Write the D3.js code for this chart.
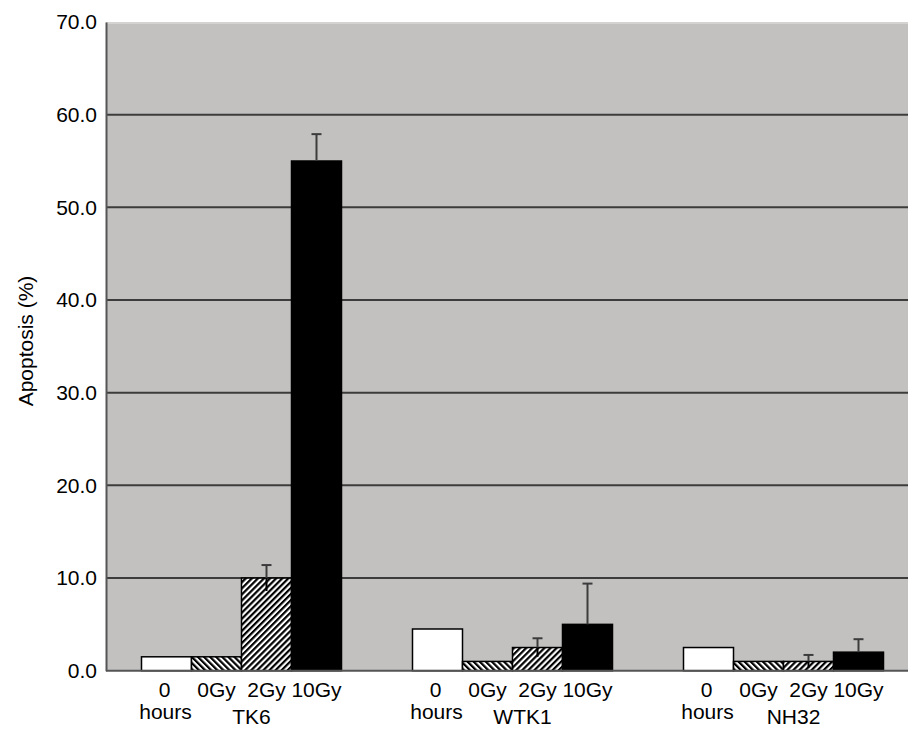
<!DOCTYPE html>
<html>
<head>
<meta charset="utf-8">
<script src="https://cdn.jsdelivr.net/npm/d3@7"></script>
<style>
  html, body { margin: 0; padding: 0; background: #ffffff; }
  svg { display: block; }
  text { font-family: "Liberation Sans", Arial, sans-serif; fill: #000; }
</style>
</head>
<body>
<svg id="chart" width="908" height="729"></svg>
<script>
// ---- data ----
const groups = ["TK6", "WTK1", "NH32"];
const conditions = ["0 hours", "0Gy", "2Gy", "10Gy"];
const valuesTK6 = [1.5, 1.5, 10.0, 55.0];
const valuesWTK1 = [4.5, 1.0, 2.5, 5.0];
const valuesNH32 = [2.5, 1.0, 1.0, 2.0];
const errorsTK6 = [null, null, 1.4, 2.9];
const errorsWTK1 = [null, null, 1.0, 4.4];
const errorsNH32 = [null, null, 0.7, 1.4];
const yTicks = [0, 10, 20, 30, 40, 50, 60, 70];
const yLabel = "Apoptosis (%)";

const values = [valuesTK6, valuesWTK1, valuesNH32];
const errors = [errorsTK6, errorsWTK1, errorsNH32];

// ---- layout ----
const svg = d3.select("#chart");
const pLeft = 106, pRight = 919, pTop = 22, pBottom = 670.7;

const x0 = d3.scaleBand().domain(groups).range([pLeft, pRight])
  .paddingInner(0.262).paddingOuter(0.131);
const x1 = d3.scaleBand().domain(conditions).range([0, x0.bandwidth()]).padding(0);
const y = d3.scaleLinear().domain([0, 70]).range([pBottom, pTop]);

// patterns
const defs = svg.append("defs");
function hatch(id, angle) {
  const p = defs.append("pattern").attr("id", id)
    .attr("patternUnits", "userSpaceOnUse")
    .attr("width", 4.3).attr("height", 10)
    .attr("patternTransform", `rotate(${angle})`);
  p.append("rect").attr("width", 4.3).attr("height", 10).attr("fill", "#fff");
  p.append("rect").attr("width", 2.2).attr("height", 10).attr("fill", "#000");
}
hatch("hatchBack", -45);
hatch("hatchFwd", 45);
const fills = { "0 hours": "#ffffff", "0Gy": "url(#hatchBack)", "2Gy": "url(#hatchFwd)", "10Gy": "#000000" };

// plot background
svg.append("rect").attr("x", pLeft).attr("y", pTop)
  .attr("width", pRight - pLeft).attr("height", pBottom - pTop)
  .attr("fill", "#c2c1c0");
svg.append("line").attr("x1", pLeft).attr("x2", pRight)
  .attr("y1", pTop + 1).attr("y2", pTop + 1)
  .attr("stroke", "#d4d3d2").attr("stroke-width", 2);

// gridlines
svg.append("g").selectAll("line").data(yTicks.filter(d => d > 0 && d < 70)).join("line")
  .attr("x1", pLeft).attr("x2", pRight)
  .attr("y1", d => y(d)).attr("y2", d => y(d))
  .attr("stroke", "#3c3c3c").attr("stroke-width", 2);

// y axis
const yAxis = svg.append("g").attr("transform", `translate(${pLeft},0)`)
  .call(d3.axisLeft(y).tickValues(yTicks).tickFormat(d3.format(".1f")).tickSize(0).tickPadding(9));
yAxis.select(".domain").attr("stroke", "#555").attr("stroke-width", 2);
yAxis.selectAll("text").style("font-size", "21px").style("font-family", "Liberation Sans, Arial, sans-serif").attr("fill", "#000");

// bars
const gGroups = svg.append("g").selectAll("g").data(groups).join("g")
  .attr("transform", d => `translate(${x0(d)},0)`);

gGroups.selectAll("rect").data((g, gi) => conditions.map((c, ci) => ({ c, v: values[gi][ci] })))
  .join("rect")
  .attr("x", d => x1(d.c))
  .attr("width", x1.bandwidth())
  .attr("y", d => y(d.v))
  .attr("height", d => y(0) - y(d.v))
  .attr("fill", d => fills[d.c])
  .attr("stroke", "#000").attr("stroke-width", 1.5);

// error bars
const errData = [];
groups.forEach((g, gi) => conditions.forEach((c, ci) => {
  if (errors[gi][ci] != null) errData.push({ g, c, v: values[gi][ci], e: errors[gi][ci] });
}));
const eg = svg.append("g").selectAll("g").data(errData).join("g")
  .attr("transform", d => `translate(${x0(d.g) + x1(d.c) + x1.bandwidth() / 2},0)`);
// lower half (inside the bar)
eg.append("line").attr("x1", 0).attr("x2", 0)
  .attr("y1", d => y(d.v - d.e)).attr("y2", d => y(d.v))
  .attr("stroke", "#000").attr("stroke-width", 2);
// upper half
eg.append("line").attr("x1", 0).attr("x2", 0)
  .attr("y1", d => y(d.v)).attr("y2", d => y(d.v + d.e))
  .attr("stroke", "#3c3c3c").attr("stroke-width", 2);
eg.append("line").attr("x1", -5).attr("x2", 5)
  .attr("y1", d => y(d.v + d.e)).attr("y2", d => y(d.v + d.e))
  .attr("stroke", "#3c3c3c").attr("stroke-width", 2);

// baseline
svg.append("line").attr("x1", pLeft).attr("x2", pRight)
  .attr("y1", pBottom).attr("y2", pBottom)
  .attr("stroke", "#555").attr("stroke-width", 2);

// x labels
const lab = svg.append("g").style("font-size", "21px");
groups.forEach(g => {
  conditions.forEach(c => {
    const cx = x0(g) + x1(c) + x1.bandwidth() / 2;
    const parts = c.split(" ");
    lab.append("text").attr("x", cx - (parts.length > 1 ? 2 : 0)).attr("y", 697)
      .attr("text-anchor", "middle").text(parts[0]);
    if (parts.length > 1) {
      lab.append("text").attr("x", cx - 1).attr("y", 719)
        .attr("text-anchor", "middle").text(parts[1]);
    }
  });
  lab.append("text").attr("x", x0(g) + x0.bandwidth() / 2 + 10).attr("y", 724)
    .attr("text-anchor", "middle").text(g);
});

// y label
svg.append("text").attr("transform", `translate(33,341) rotate(-90)`)
  .attr("text-anchor", "middle").style("font-size", "21px").text(yLabel);
</script>
</body>
</html>
